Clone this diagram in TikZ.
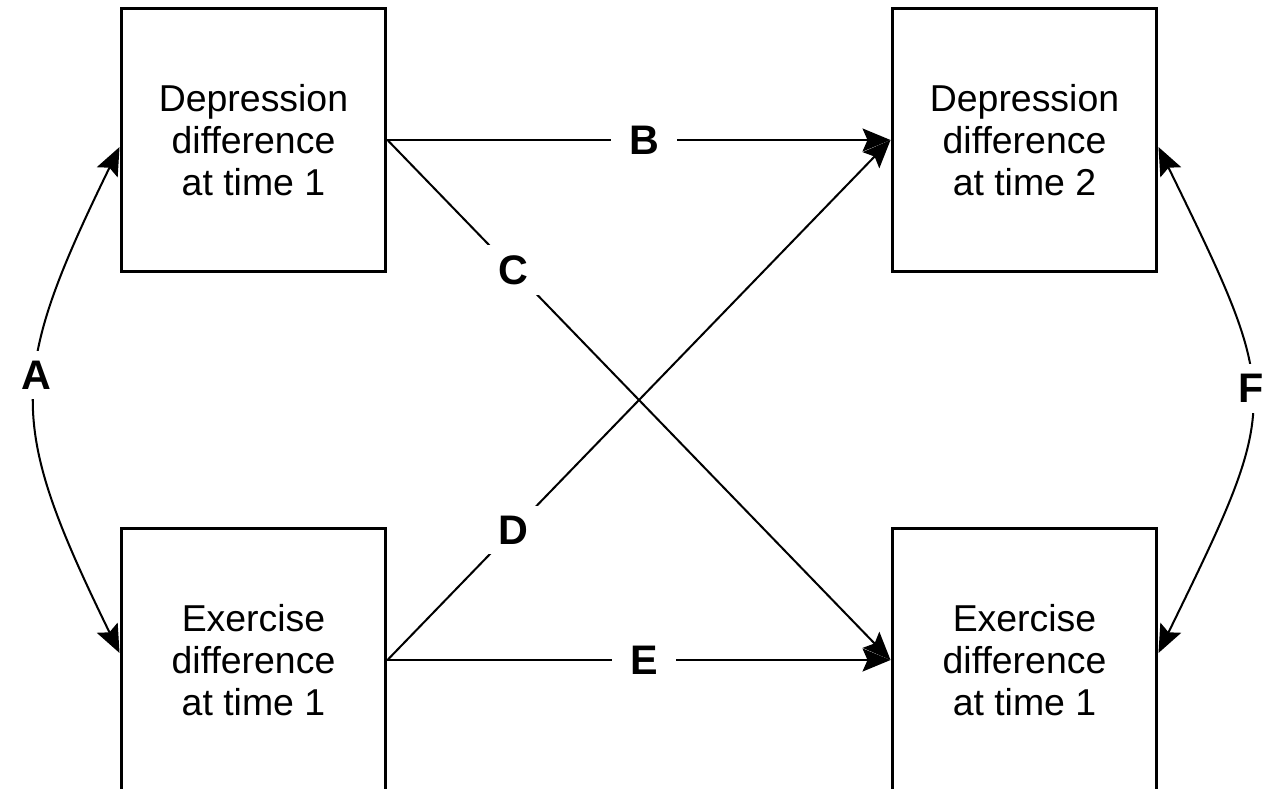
\documentclass[tikz,border=0pt]{standalone}
\usepackage{fontspec}
\setmainfont{Liberation Sans}
\usetikzlibrary{arrows.meta}
\begin{document}
\begin{tikzpicture}[x=0.02cm,y=-0.02cm,
  varbox/.style={draw=black, line width=1.7pt, minimum width=5.3cm, minimum height=5.28cm,
    align=center, inner sep=0pt, font=\fontsize{21.3}{24.1}\selectfont},
  path/.style={draw=black, line width=1.15pt,
    -{Stealth[length=0.56cm,width=0.46cm,inset=0.1cm]}},
  bipath/.style={path,
    {Stealth[length=0.56cm,width=0.46cm,inset=0.1cm]}-{Stealth[length=0.56cm,width=0.46cm,inset=0.1cm]}},
  lab/.style={fill=white, inner xsep=0.37cm, inner ysep=0.2cm,
    font=\bfseries\fontsize{23.5}{27}\selectfont}]
  \clip (0,0) rectangle (1274,788);
  \fill[white] (0,0) rectangle (1274,788);

  % the four measured variables
  \node[varbox] (dep1) at (253.5,140) {Depression\\difference\\at time 1};
  \node[varbox] (dep2) at (1024.5,140) {Depression\\difference\\at time 2};
  \node[varbox] (ex1)  at (253.5,660) {Exercise\\difference\\at time 1};
  \node[varbox] (ex2)  at (1024.5,660) {Exercise\\difference\\at time 1};

  % cross-lagged paths
  \draw[path] (dep1.east) -- node[lab,pos=0.51] (labB) {B} (dep2.west);
  \draw[path] (dep1.east) -- node[lab,pos=0.25] (labC) {C} (ex2.west);
  \draw[path] (ex1.east) -- node[lab,pos=0.25] (labD) {D} (dep2.west);
  \draw[path] (ex1.east) -- node[lab,pos=0.51] (labE) {E} (ex2.west);

  % within-time correlations
  \draw[bipath] (dep1.183) to[out=244,in=116,looseness=1.3]
    node[lab,pos=0.44,inner xsep=0.1cm] (labA) {A} (ex1.177);
  \draw[bipath] (dep2.-3) to[out=-64,in=64,looseness=1.43]
    node[lab,pos=0.47,inner xsep=0.1cm] (labF) {F} (ex2.3);
\end{tikzpicture}
\end{document}
